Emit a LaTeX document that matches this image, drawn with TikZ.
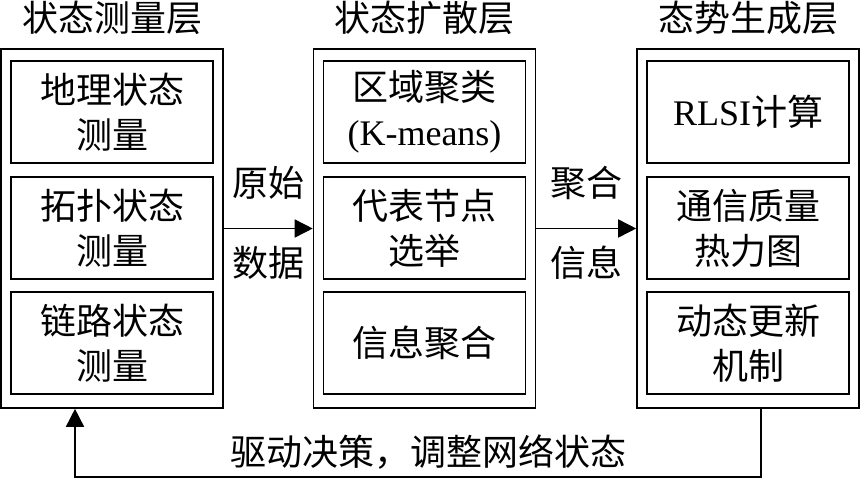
\documentclass[tikz,border=0pt]{standalone}
\usepackage{fontspec}
\setmainfont{Liberation Serif}
\newfontfamily\cjk{Noto Sans CJK SC}
\usetikzlibrary{arrows.meta}

\tikzset{
  layer/.style={draw, line width=1.6pt, minimum width=222pt, minimum height=359pt, inner sep=0pt},
  item/.style={draw, line width=1.4pt, minimum width=202pt, minimum height=102pt, inner sep=0pt, align=center},
  flow/.style={line width=1.6pt, -{Triangle[length=18pt,width=18pt]}},
}

\begin{document}
\begin{tikzpicture}[x=1pt,y=-1pt,font=\fontsize{36}{45}\selectfont\cjk]
  \useasboundingbox (0,0) rectangle (861,479);

  \draw (112,18)      node (10)          {状态测量层};
  \draw (112,228.5)   node (1) [layer]   {};
  \draw (112,112)     node (11) [item]   {地理状态\\测量};
  \draw (112,228)     node (12) [item]   {拓扑状态\\测量};
  \draw (112,343)     node (13) [item]   {链路状态\\测量};

  \draw (424.5,18)    node (20)          {状态扩散层};
  \draw (424.5,228.5) node (2) [layer]   {};
  \draw (424.5,112)   node (21) [item]   {区域聚类\\{\rmfamily (K-means)}};
  \draw (424.5,228)   node (22) [item]   {代表节点\\选举};
  \draw (424.5,343)   node (23) [item]   {信息聚合};

  \draw (748,18)      node (30)          {态势生成层};
  \draw (748,228.5)   node (3) [layer]   {};
  \draw (748,112)     node (31) [item]   {{\rmfamily RLSI}计算};
  \draw (748,228)     node (32) [item]   {通信质量\\热力图};
  \draw (748,343)     node (33) [item]   {动态更新\\机制};

  \draw[flow] (1) -- (2);
  \draw (268,183) node (41) {原始};
  \draw (268,263) node (42) {数据};

  \draw[flow] (2) -- (3);
  \draw (586,183) node (51) {聚合};
  \draw (586,263) node (52) {信息};

  % feedback loop
  \coordinate (61) at (761,477);
  \coordinate (62) at (75,477);
  \draw[flow] (3.south -| 61) -- (61) -- (62) -- (1.south -| 62);
  \draw (428,452) node (63) {驱动决策，调整网络状态};
\end{tikzpicture}
\end{document}
